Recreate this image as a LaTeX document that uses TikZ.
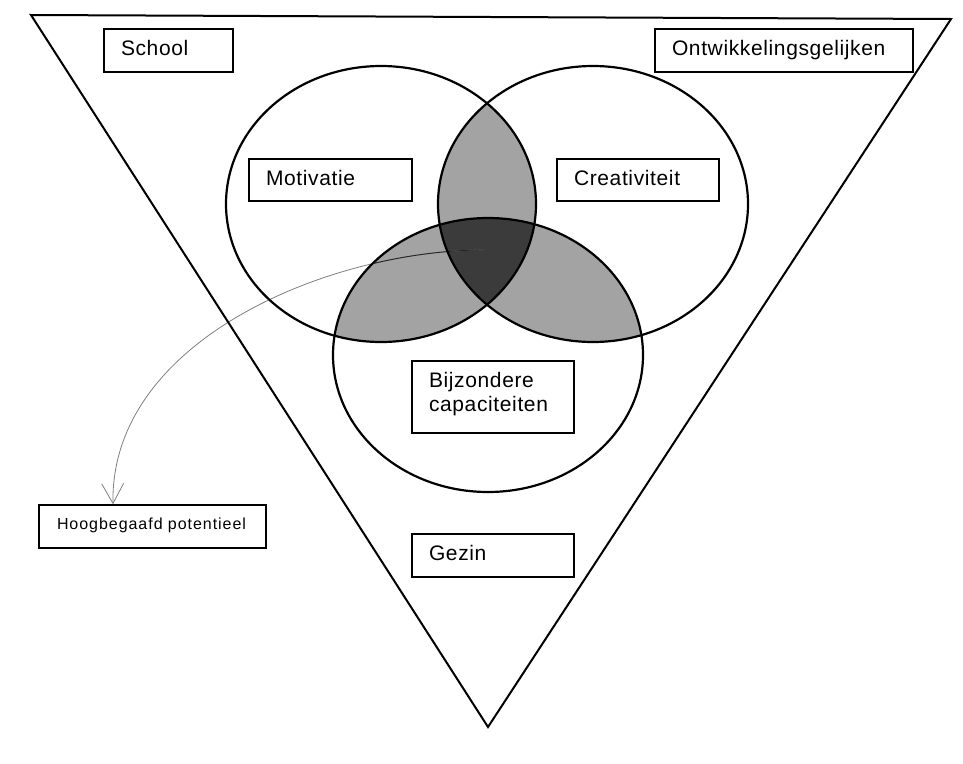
\documentclass[tikz,border=0pt]{standalone}
\usepackage{fontspec}
\setmainfont[LetterSpace=3]{Liberation Sans}
\newfontfamily\hoogfont[LetterSpace=6]{Liberation Sans}
\usetikzlibrary{arrows.meta}
\definecolor{lensgray}{gray}{0.64}
\definecolor{coregray}{gray}{0.23}
\definecolor{arrowgray}{gray}{0.5}
\begin{document}
\begin{tikzpicture}[x=1pt,y=-1pt,
  labelbox/.style={draw=black, line width=1.4pt, fill=white, inner xsep=17pt, inner ysep=0pt,
    align=left, font=\fontsize{21}{24}\selectfont, text height=16pt, text depth=6pt},
  outline/.style={draw=black, line width=2.2pt},
  lens/.style={fill=lensgray},
  core/.style={fill=coregray},
  linkline/.style={draw=arrowgray, line width=0.8pt, -{Straight Barb[length=20pt,width=22pt]}}
  ]
\useasboundingbox (0,0) rectangle (963,763);
\fill[white] (0,0) rectangle (963,763);

% shaded overlaps
\begin{scope}
  \clip (381,204) ellipse [x radius=155pt, y radius=138pt];
  \fill[lens] (593,204) ellipse [x radius=155pt, y radius=138pt];
  \fill[lens] (488,355) ellipse [x radius=155pt, y radius=137pt];
\end{scope}
\begin{scope}
  \clip (593,204) ellipse [x radius=155pt, y radius=138pt];
  \fill[lens] (488,355) ellipse [x radius=155pt, y radius=137pt];
\end{scope}
\begin{scope}
  \clip (381,204) ellipse [x radius=155pt, y radius=138pt];
  \clip (593,204) ellipse [x radius=155pt, y radius=138pt];
  \fill[core] (488,355) ellipse [x radius=155pt, y radius=137pt];
\end{scope}

% boxes
\node[labelbox, minimum width=129pt, minimum height=43pt, text width=95pt] (school) at (168.5,50.5) {School};
\node[labelbox, minimum width=258pt, minimum height=43pt, text width=224pt] (ontw) at (784,50.5) {Ontwikkelingsgelijken};
\node[labelbox, minimum width=163pt, minimum height=42pt, text width=129pt] (motiv) at (330.5,180) {Motivatie};
\node[labelbox, minimum width=162pt, minimum height=42pt, text width=128pt] (creat) at (638,180) {Creativiteit};
\node[labelbox, minimum width=162pt, minimum height=72pt, text width=128pt, text height=16pt, text depth=36pt] (bijz) at (493,397) {Bijzondere\\capaciteiten};
\node[labelbox, minimum width=162pt, minimum height=43pt, text width=128pt] (gezin) at (493,555.5) {Gezin};
\node[labelbox, minimum width=227pt, minimum height=43pt, text width=191pt, inner xsep=18pt,
  font=\hoogfont\fontsize{16}{19}\selectfont, text height=12pt, text depth=6.4pt] (hoog) at (152.5,526.5) {\mbox{Hoogbegaafd potentieel}};

% connector
\coordinate (src) at (484,250);
\draw[linkline] (src) .. controls (330,250) and (110,340) .. ([xshift=-39.5pt]hoog.north);
\begin{scope}
  \clip (488,355) ellipse [x radius=155pt, y radius=137pt];
  \draw[black!85, line width=0.9pt] (src) .. controls (330,250) and (110,340) .. ([xshift=-39.5pt]hoog.north);
\end{scope}

% circles
\draw[outline] (381,204) ellipse [x radius=155pt, y radius=138pt];
\draw[outline] (593,204) ellipse [x radius=155pt, y radius=138pt];
\draw[outline] (488,355) ellipse [x radius=155pt, y radius=137pt];

% triangle
\draw[black, line width=2pt, line join=miter] (31,15) -- (951,19) -- (488,727) -- cycle;
\end{tikzpicture}
\end{document}
